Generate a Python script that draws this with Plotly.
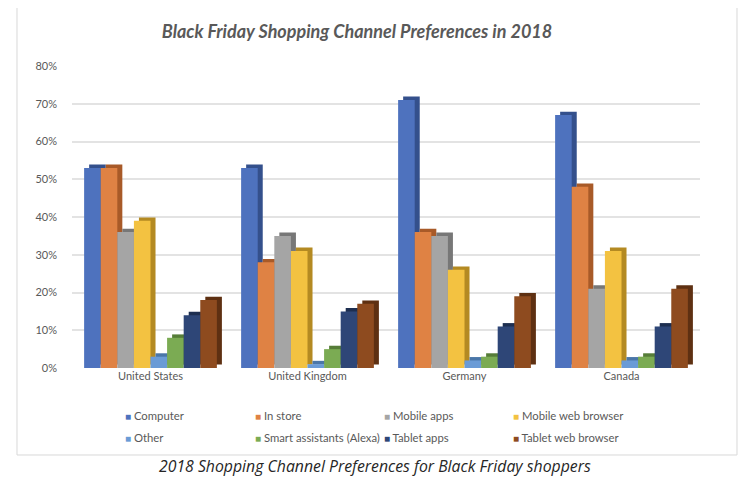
import plotly.graph_objects as go

countries = ["United States", "United Kingdom", "Germany", "Canada"]
series_names = ["Computer", "In store", "Mobile apps", "Mobile web browser",
                "Other", "Smart assistants (Alexa)", "Tablet apps", "Tablet web browser"]

computer = [53, 53, 71, 67]
in_store = [53, 28, 36, 48]
mobile_apps = [36, 35, 35, 21]
mobile_web = [39, 31, 26, 31]
other = [3, 1, 2, 2]
smart_assist = [8, 5, 3, 3]
tablet_apps = [14, 15, 11, 11]
tablet_web = [18, 17, 19, 21]

y_ticks = [0, 10, 20, 30, 40, 50, 60, 70, 80]
y_tick_labels = ["0%", "10%", "20%", "30%", "40%", "50%", "60%", "70%", "80%"]

values = [computer, in_store, mobile_apps, mobile_web, other, smart_assist, tablet_apps, tablet_web]
face_colors = ["#4E72BE", "#DF8244", "#A5A5A5", "#F3C241", "#6A9BD6", "#7BAB53", "#2E4677", "#8E4B1F"]
side_colors = ["#34508C", "#A85A28", "#777777", "#B48A22", "#4A76A8", "#567D38", "#1D2E50", "#5E3012"]

# Figure geometry (the page body adds an 8px offset, so the figure is 8px smaller)
W, H = 741, 470
L, R, T, B = 64, 49, 58, 110
PW, PH = W - L - R, H - T - B


def px_to_paper_x(px):
    return (px - L) / PW


def px_to_paper_y(py):
    return (H - B - py) / PH


n = len(series_names)
bar_w = 0.1057
start = -n * bar_w / 2
depth_x = 0.032
depth_y = 0.9

fig = go.Figure()

# depth (3D side/top) faces drawn first
for i in range(n):
    fig.add_trace(go.Bar(
        x=countries, y=values[i], base=depth_y,
        width=bar_w, offset=start + i * bar_w + depth_x,
        marker=dict(color=side_colors[i], line=dict(width=0)),
        showlegend=False, hoverinfo="skip",
    ))

for i in range(n):
    fig.add_trace(go.Bar(
        x=countries, y=values[i], name=series_names[i],
        width=bar_w, offset=start + i * bar_w,
        marker=dict(color=face_colors[i], line=dict(width=0)),
        showlegend=False,
    ))

font_fam = "Lato, 'Open Sans', sans-serif"

fig.update_layout(
    width=W, height=H,
    margin=dict(l=L, r=R, t=T, b=B),
    paper_bgcolor="white", plot_bgcolor="white",
    barmode="overlay",
    title=dict(
        text="Black Friday Shopping Channel Preferences in 2018",
        x=349 / W, xanchor="center", y=1 - 24 / H, yanchor="middle",
        font=dict(family=font_fam, size=18, color="#595959", weight="bold", style="italic"),
    ),
    xaxis=dict(
        showgrid=False, zeroline=False, showline=False, ticks="",
        tickfont=dict(family=font_fam, size=11, color="#595959"),
        range=[-0.5, 3.5],
    ),
    yaxis=dict(
        range=[0, 80], tickvals=y_ticks, ticktext=y_tick_labels,
        showgrid=True, gridcolor="#E3E3E3", gridwidth=1.5,
        zeroline=False, showline=False, ticks="",
        tickfont=dict(family=font_fam, size=11, color="#595959"),
        ticklabelstandoff=14,
    ),
    showlegend=False,
)

# legend built from the series names / colours (2 rows x 4 columns)
legend_cols_px = [115, 245, 374, 503]
legend_rows_px = [407, 429]
for i in range(n):
    col, row = i % 4, i // 4
    fig.add_annotation(
        text="<span style='color:%s;font-size:10px'>■</span> %s" % (face_colors[i], series_names[i]),
        xref="paper", yref="paper",
        x=px_to_paper_x(legend_cols_px[col]), y=px_to_paper_y(legend_rows_px[row]),
        xanchor="left", yanchor="middle", showarrow=False,
        font=dict(family=font_fam, size=11.3, color="#595959"),
    )

# outer frame (left, bottom, right edges)
fig.add_shape(type="path", xref="paper", yref="paper",
              path="M %f,%f L %f,%f L %f,%f L %f,%f" % (
                  px_to_paper_x(9), px_to_paper_y(-1),
                  px_to_paper_x(9), px_to_paper_y(447),
                  px_to_paper_x(729), px_to_paper_y(447),
                  px_to_paper_x(729), px_to_paper_y(-1)),
              line=dict(color="#D9D9D9", width=1))

fig.add_annotation(
    text="2018 Shopping Channel Preferences for Black Friday shoppers",
    xref="paper", yref="paper", x=px_to_paper_x(367), y=px_to_paper_y(458),
    xanchor="center", yanchor="middle", showarrow=False,
    font=dict(family="'Open Sans', sans-serif", size=15.8, color="#262626", style="italic"),
)

fig.write_html("out.html")
